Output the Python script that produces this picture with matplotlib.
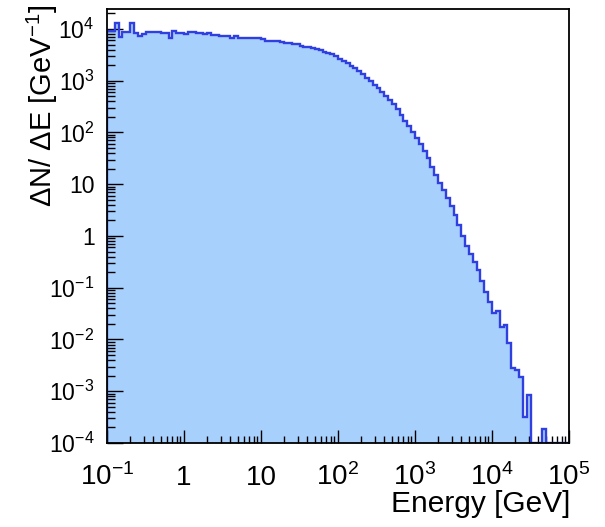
import numpy as np
import matplotlib
matplotlib.use("Agg")
import matplotlib.pyplot as plt
from matplotlib.ticker import FixedLocator, FixedFormatter, LogLocator, NullFormatter

plt.rcParams['font.family'] = ['Liberation Sans', 'DejaVu Sans']
plt.rcParams['mathtext.fontset'] = 'custom'
plt.rcParams['mathtext.rm'] = 'Liberation Sans'
plt.rcParams['mathtext.it'] = 'Liberation Sans:italic'
plt.rcParams['mathtext.bf'] = 'Liberation Sans:bold'

# Energy binning: 20 log-uniform bins per decade from 0.1 GeV to 100 TeV
log_e_min, log_e_max, bins_per_decade = -1.0, 5.0, 20

# log10(dN/dE) per bin; None marks an empty bin
log_dnde = [
    3.96, 3.96, 4.11, 3.84, 3.94, 3.94, 4.11, 3.92, 3.87, 3.90,
    3.95, 3.94, 3.95, 3.95, 3.92, 3.92, 3.82, 3.96, 3.93, 3.92,
    3.90, 3.95, 3.95, 3.92, 3.92, 3.91, 3.92, 3.88, 3.88, 3.87,
    3.86, 3.87, 3.82, 3.87, 3.82, 3.82, 3.82, 3.82, 3.82, 3.82,
    3.81, 3.76, 3.76, 3.76, 3.76, 3.75, 3.735, 3.72, 3.71, 3.70,
    3.68, 3.66, 3.645, 3.625, 3.61, 3.585, 3.56, 3.535, 3.51, 3.47,
    3.425, 3.38, 3.335, 3.29, 3.24, 3.19, 3.13, 3.06, 2.99, 2.925,
    2.86, 2.78, 2.71, 2.635, 2.55, 2.455, 2.345, 2.23, 2.12, 2.01,
    1.90, 1.77, 1.64, 1.50, 1.34, 1.18, 1.03, 0.88, 0.74, 0.57,
    0.40, 0.21, 0.00, -0.19, -0.35, -0.50, -0.66, -0.87, -1.08, -1.27,
    -1.49, -1.44, -1.76, -1.72, -2.07, -2.56, -2.59, -2.73, -3.49, -3.07,
    None, None, None, -3.72, None, None, None, None, None, None,
]

x_tick_values = [1e-1, 1, 10, 1e2, 1e3, 1e4, 1e5]
x_tick_labels = [r'$10^{-1}$', '1', '10', r'$10^{2}$', r'$10^{3}$',
                 r'$10^{4}$', r'$10^{5}$']
y_tick_values = [1e-4, 1e-3, 1e-2, 1e-1, 1, 10, 1e2, 1e3, 1e4]
y_tick_labels = [r'$10^{-4}$', r'$10^{-3}$', r'$10^{-2}$', r'$10^{-1}$', '1',
                 '10', r'$10^{2}$', r'$10^{3}$', r'$10^{4}$']
y_min, y_max = 1e-4, 2.43e4

n_bins = int(round((log_e_max - log_e_min) * bins_per_decade))
edges = np.logspace(log_e_min, log_e_max, n_bins + 1)
counts = np.array([0.0 if v is None else 10.0 ** v for v in log_dnde])
# empty bins sit on the lower edge of the frame
shown = np.maximum(counts, y_min)

fig = plt.figure(figsize=(6.05, 5.27), dpi=100)
ax = fig.add_axes([107 / 605, 84 / 527, 462 / 605, 434 / 527])
ax.set_xscale('log')
ax.set_yscale('log')

ax.stairs(shown, edges, baseline=y_min, fill=True, color='#a8d0fd',
          linewidth=0, zorder=1)
ax.stairs(shown, edges, baseline=y_min, fill=False, color='#2f3fe0',
          linewidth=1.7, zorder=2)

ax.set_xlim(edges[0], edges[-1])
ax.set_ylim(y_min, y_max)

ax.xaxis.set_major_locator(FixedLocator(x_tick_values))
ax.xaxis.set_major_formatter(FixedFormatter(x_tick_labels))
ax.yaxis.set_major_locator(FixedLocator(y_tick_values))
ax.yaxis.set_major_formatter(FixedFormatter(y_tick_labels))
ax.xaxis.set_minor_locator(LogLocator(base=10, subs=np.arange(2, 10), numticks=50))
ax.yaxis.set_minor_locator(LogLocator(base=10, subs=np.arange(2, 10), numticks=50))
ax.xaxis.set_minor_formatter(NullFormatter())
ax.yaxis.set_minor_formatter(NullFormatter())

ax.tick_params(which='both', direction='in', top=False, right=False,
               width=1.0, colors='black')
ax.tick_params(axis='y', which='major', length=11.5, pad=9, labelsize=16.5)
ax.tick_params(axis='y', which='minor', length=5.5)
ax.tick_params(axis='x', which='major', length=9.5, pad=30, labelsize=20)
ax.tick_params(axis='x', which='minor', length=5)
for lab in ax.get_xticklabels():
    lab.set_verticalalignment('baseline')
for lab in ax.get_yticklabels():
    lab.set_verticalalignment('center_baseline')

for sp in ax.spines.values():
    sp.set_linewidth(1.3)
    sp.set_zorder(3)

fig.text(570 / 605, (527 - 512) / 527, 'Energy [GeV]', ha='right',
         va='baseline', fontsize=21.5)
fig.text(52 / 605, (527 - 5) / 527, r'$\Delta$N/ $\Delta$E [GeV$^{-1}$]',
         rotation=90, rotation_mode='anchor', ha='right', va='baseline',
         fontsize=21)

fig.savefig('out.png', dpi=100)
